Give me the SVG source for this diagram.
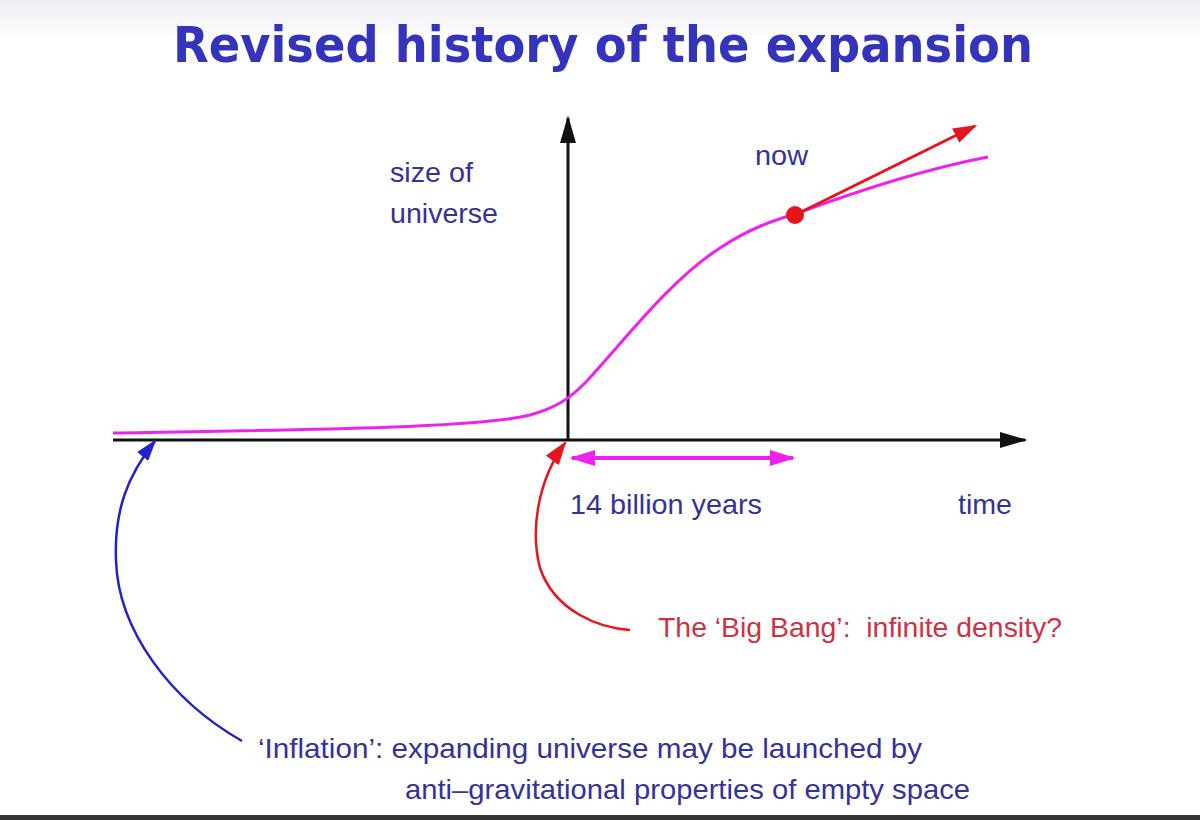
<svg xmlns="http://www.w3.org/2000/svg" width="1200" height="820" viewBox="0 0 1200 820">
<defs>
<linearGradient id="bg" x1="0" y1="0" x2="0" y2="1">
<stop offset="0" stop-color="#ececf4"/>
<stop offset="1" stop-color="#ffffff"/>
</linearGradient>
<marker id="ahBlack" viewBox="0 0 10 10" refX="9" refY="5" markerWidth="28" markerHeight="16" markerUnits="userSpaceOnUse" orient="auto" preserveAspectRatio="none"><path d="M0,0 L10,5 L0,10 z" fill="#111"/></marker>
<marker id="ahMag" viewBox="0 0 10 10" refX="9" refY="5" markerWidth="26" markerHeight="16" markerUnits="userSpaceOnUse" preserveAspectRatio="none" orient="auto-start-reverse"><path d="M0,0 L10,5 L0,10 z" fill="#ee22ee"/></marker>
<marker id="ahRed" viewBox="0 0 10 10" refX="9" refY="5" markerWidth="24" markerHeight="16" markerUnits="userSpaceOnUse" preserveAspectRatio="none" orient="auto"><path d="M0,0 L10,5 L0,10 z" fill="#e8141c"/></marker>
<marker id="ahBlue" viewBox="0 0 10 10" refX="9" refY="5" markerWidth="22" markerHeight="14" markerUnits="userSpaceOnUse" preserveAspectRatio="none" orient="auto"><path d="M0,0 L10,5 L0,10 z" fill="#2222cc"/></marker>
</defs>
<style>
.lbl{font-family:"Liberation Sans",Arial,sans-serif;font-size:28px;fill:#333399}
.red{font-family:"Liberation Sans",Arial,sans-serif;font-size:28px;fill:#cc3344}
.title{font-family:"DejaVu Sans Condensed","DejaVu Sans",sans-serif;font-weight:bold;font-size:50px;fill:#3333bb}
</style>
<rect x="0" y="0" width="1200" height="820" fill="#fff"/>
<rect x="0" y="0" width="1200" height="40" fill="url(#bg)"/>
<rect x="0" y="815" width="1200" height="5" fill="#333"/>
<g id="title"><text class="title" x="173" y="62" textLength="860" lengthAdjust="spacingAndGlyphs">Revised history of the expansion</text></g>
<g id="connectors">
<line id="xaxis" x1="113" y1="440" x2="1025" y2="440" stroke="#111" stroke-width="3" marker-end="url(#ahBlack)"/>
<line id="yaxis" x1="568" y1="440" x2="568" y2="118" stroke="#111" stroke-width="3" marker-end="url(#ahBlack)"/>
<path id="curve" d="M113,433 C300,430 480,428 530,415 C555,408 568,400 585,383 C625,340 670,280 720,248 C750,228 775,220 795,214 C860,190 930,168 988,157" fill="none" stroke="#ee22ee" stroke-width="3"/>
<line id="span" x1="572" y1="458" x2="793" y2="458" stroke="#ee22ee" stroke-width="4" marker-start="url(#ahMag)" marker-end="url(#ahMag)"/>
<line id="tangent" x1="795" y1="215" x2="975" y2="126" stroke="#e8141c" stroke-width="3" marker-end="url(#ahRed)"/>
<path id="bigbangArrow" d="M630,630 C600,628 555,612 540,568 C530,530 538,480 565,443" fill="none" stroke="#e8141c" stroke-width="2.5" marker-end="url(#ahRed)"/>
<path id="inflationArrow" d="M242,741 C170,700 118,630 116,560 C114,510 128,475 155,441" fill="none" stroke="#2222cc" stroke-width="2.5" marker-end="url(#ahBlue)"/>
</g>
<g id="nowPoint"><circle cx="795" cy="215" r="9" fill="#e8141c"/></g>
<g id="ylabel"><text class="lbl" x="390" y="182" textLength="83" lengthAdjust="spacingAndGlyphs">size of</text><text class="lbl" x="390" y="223" textLength="108" lengthAdjust="spacingAndGlyphs">universe</text></g>
<g id="nowLabel"><text class="lbl" x="755" y="165" textLength="53" lengthAdjust="spacingAndGlyphs">now</text></g>
<g id="spanLabel"><text class="lbl" x="570" y="514" textLength="192" lengthAdjust="spacingAndGlyphs">14 billion years</text></g>
<g id="timeLabel"><text class="lbl" x="958" y="514" textLength="54" lengthAdjust="spacingAndGlyphs">time</text></g>
<g id="bigbangLabel"><text class="red" x="658" y="637" xml:space="preserve" textLength="404" lengthAdjust="spacingAndGlyphs">The ‘Big Bang’:  infinite density?</text></g>
<g id="inflationLabel"><text class="lbl" x="258" y="758" textLength="664" lengthAdjust="spacingAndGlyphs">‘Inflation’: expanding universe may be launched by</text><text class="lbl" x="405" y="799" textLength="565" lengthAdjust="spacingAndGlyphs">anti–gravitational properties of empty space</text></g>
</svg>
